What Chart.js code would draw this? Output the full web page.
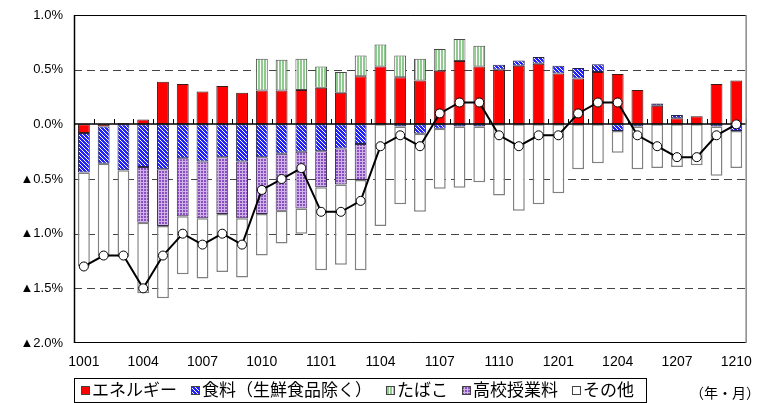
<!DOCTYPE html>
<html>
<head>
<meta charset="utf-8">
<script src="https://cdn.jsdelivr.net/npm/chart.js@4.4.0/dist/chart.umd.min.js"></script>
<style>
html, body { margin: 0; padding: 0; background: #fff; }
#wrap { width: 763px; height: 403px; }
</style>
</head>
<body>
<div id="wrap"><canvas id="c"></canvas></div>
<script>
// 年・月
const months = ['1001','1002','1003','1004','1005','1006','1007','1008','1009','1010','1011','1012',
                '1101','1102','1103','1104','1105','1106','1107','1108','1109','1110','1111','1112',
                '1201','1202','1203','1204','1205','1206','1207','1208','1209','1210'];

// 寄与度 (%)
const energy  = [-0.08,-0.02,0.01,0.045,0.39,0.37,0.30,0.35,0.29,0.31,0.31,0.315,
                 0.335,0.29,0.44,0.53,0.43,0.40,0.49,0.58,0.53,0.50,0.535,0.555,
                 0.465,0.42,0.48,0.46,0.315,0.17,0.055,0.075,0.37,0.40];
const food    = [-0.36,-0.34,-0.42,-0.39,-0.41,-0.31,-0.34,-0.30,-0.34,-0.30,-0.27,-0.25,
                 -0.245,-0.22,-0.18,null,-0.02,-0.085,-0.04,-0.02,-0.02,0.045,0.05,0.06,
                 0.07,0.095,0.07,-0.06,-0.02,0.02,0.03,null,-0.02,-0.06];
const tobacco = [null,null,null,null,null,null,null,null,null,0.29,0.28,0.285,
                 0.195,0.19,0.19,0.20,0.20,0.20,0.20,0.20,0.19,null,null,null,
                 null,null,null,null,null,null,null,null,null,null];
const tuition = [null,null,null,-0.51,-0.52,-0.53,-0.52,-0.52,-0.52,-0.52,-0.52,-0.52,
                 -0.33,-0.33,-0.33,null,null,null,null,null,null,null,null,null,
                 null,null,null,null,null,null,null,null,null,null];
const other   = [-0.86,-0.85,-0.79,-0.645,-0.66,-0.53,-0.55,-0.53,-0.54,-0.38,-0.30,-0.23,
                 -0.76,-0.735,-0.825,-0.93,-0.71,-0.715,-0.55,-0.56,-0.51,-0.65,-0.79,-0.73,
                 -0.63,-0.41,-0.355,-0.20,-0.39,-0.40,-0.39,-0.375,-0.45,-0.34];
const total   = [-1.3,-1.2,-1.2,-1.5,-1.2,-1.0,-1.1,-1.0,-1.1,-0.6,-0.5,-0.4,
                 -0.8,-0.8,-0.7,-0.2,-0.1,-0.2,0.1,0.2,0.2,-0.1,-0.2,-0.1,
                 -0.1,0.1,0.2,0.2,-0.1,-0.2,-0.3,-0.3,-0.1,0.0];

const yTicks = [1, 0.5, 0, -0.5, -1, -1.5, -2];
const seriesNames = ['エネルギー', '食料（生鮮食品除く）', 'たばこ', '高校授業料', 'その他'];

var ctx = document.getElementById('c').getContext('2d');

function tile(w, h, bg, fg, cells) {
    var cv = document.createElement('canvas');
    cv.width = w; cv.height = h;
    var g = cv.getContext('2d');
    g.fillStyle = bg; g.fillRect(0, 0, w, h);
    g.fillStyle = fg;
    cells.forEach(function (d) { g.fillRect(d[0], d[1], d[2] || 1, d[3] || 1); });
    return ctx.createPattern(cv, 'repeat');
}

// blue diagonal hatch
var foodFill = tile(4, 4, '#ffffff', '#2323f5',
    [[1,0,3,1],[0,1,1,1],[2,1,2,1],[0,2,2,1],[3,2,1,1],[0,3,3,1]]);
// green vertical stripes
var tobaccoFill = tile(3, 3, '#ffffff', '#8fca8f', [[0,0,2,3]]);
// purple small grid
var tuitionFill = tile(3, 3, '#cfb2ea', '#8a4fbf', [[0,0,2,2]]);

const fills = ['#ff0000', foodFill, tobaccoFill, tuitionFill, '#ffffff'];
const borders = ['#3a1a1a', '#22224a', '#4a4a4a', '#3a2a4a', '#808080'];
const values = [energy, food, tobacco, tuition, other];

var datasets = values.map(function (v, i) {
    return {
        type: 'bar',
        label: seriesNames[i],
        data: v,
        backgroundColor: fills[i],
        borderColor: borders[i],
        borderWidth: i === 4 ? 1.5 : 1,
        borderSkipped: false,
        categoryPercentage: 1,
        barPercentage: 0.6,
        order: 1
    };
});
datasets.push({
    type: 'line',
    label: '総合',
    data: total,
    borderColor: '#000',
    borderWidth: 2,
    pointRadius: 4.5,
    pointBackgroundColor: '#fff',
    pointBorderColor: '#000',
    pointBorderWidth: 1,
    tension: 0,
    order: 0
});

var decor = {
    id: 'decor',
    beforeDatasetsDraw: function (chart) {
        var c = chart.ctx, a = chart.chartArea, y = chart.scales.y;
        c.save();
        c.strokeStyle = '#444';
        c.lineWidth = 1;
        c.setLineDash([8, 5]);
        yTicks.forEach(function (v) {
            if (v === 0 || v === 1 || v === -2) return;
            var py = Math.round(y.getPixelForValue(v)) + 0.5;
            c.beginPath(); c.moveTo(a.left, py); c.lineTo(a.right, py); c.stroke();
        });
        c.restore();
    },
    afterDatasetDraw: function (chart, args) {
        if (args.index !== 0) return;
        var c = chart.ctx, a = chart.chartArea, x = chart.scales.x, y = chart.scales.y;
        var zy = Math.round(y.getPixelForValue(0));
        var half = (x.getPixelForValue(1) - x.getPixelForValue(0)) / 2;
        c.save();
        c.strokeStyle = '#000';
        c.lineWidth = 1.5;
        c.beginPath(); c.moveTo(a.left, zy); c.lineTo(a.right, zy); c.stroke();
        c.lineWidth = 1;
        for (var i = 0; i <= months.length; i++) {
            var px = Math.round(x.getPixelForValue(i) - half) + 0.5;
            c.beginPath(); c.moveTo(px, zy); c.lineTo(px, zy - 5); c.stroke();
        }
        c.restore();
    },
    afterDraw: function (chart) {
        var c = chart.ctx, a = chart.chartArea;
        c.save();
        // frame
        c.lineWidth = 1;
        c.strokeStyle = '#000';
        c.beginPath();
        c.moveTo(a.right, a.top + 0.5); c.lineTo(a.left, a.top + 0.5);
        c.moveTo(a.left, a.bottom - 0.5); c.lineTo(a.right, a.bottom - 0.5);
        c.stroke();
        c.lineWidth = 1.5;
        c.beginPath(); c.moveTo(a.left + 0.5, a.top); c.lineTo(a.left + 0.5, a.bottom); c.stroke();
        c.strokeStyle = '#888';
        c.beginPath(); c.moveTo(a.right, a.top); c.lineTo(a.right, a.bottom); c.stroke();

        // legend
        c.font = '17px "Noto Sans CJK JP"';
        c.textBaseline = 'middle';
        c.textAlign = 'left';
        var lx = a.left + 7, ly = 390;
        for (var i = 0; i < 5; i++) {
            var ds = chart.data.datasets[i];
            c.fillStyle = ds.backgroundColor;
            c.fillRect(lx, ly - 4, 8, 8);
            c.strokeStyle = '#444';
            c.lineWidth = 1;
            c.strokeRect(lx + 0.5, ly - 3.5, 8, 8);
            c.fillStyle = '#000';
            c.fillText(ds.label, lx + 11, ly);
            lx += 11 + c.measureText(ds.label).width + 14;
        }
        c.strokeStyle = '#000';
        c.lineWidth = 1;
        c.strokeRect(a.left + 0.5, 378.5, lx - a.left - 2, 24);

        // unit
        c.font = '14px "Noto Sans CJK JP"';
        c.fillText('（年・月）', 690, 393);
        c.restore();
    }
};

new Chart(ctx, {
    data: { labels: months, datasets: datasets },
    options: {
        responsive: true,
        maintainAspectRatio: false,
        animation: false,
        devicePixelRatio: 1,
        layout: { padding: { top: 0, right: 10, left: 0, bottom: 0 } },
        plugins: {
            legend: { display: false },
            tooltip: { enabled: false }
        },
        scales: {
            x: {
                stacked: true,
                grid: { display: false, drawTicks: false },
                border: { display: false },
                ticks: {
                    autoSkip: false,
                    maxRotation: 0,
                    padding: 11,
                    color: '#000',
                    font: { family: '"Liberation Sans Narrow", "Liberation Sans", Arial', size: 14 },
                    callback: function (v, i) { return i % 3 === 0 ? months[i] : ''; }
                },
                afterFit: function (s) { s.height = 60; }
            },
            y: {
                stacked: true,
                min: -2,
                max: 1,
                grid: { display: false, drawTicks: false },
                border: { display: false },
                afterBuildTicks: function (s) { s.ticks = yTicks.map(function (v) { return { value: v }; }); },
                ticks: {
                    padding: 11,
                    color: '#000',
                    font: { family: '"Liberation Sans Narrow", "Liberation Sans", Arial', size: 13, lineHeight: 0.62 },
                    callback: function (v) {
                        var s = Math.abs(v).toFixed(1) + '%';
                        return v < 0 ? '▲' + s : s;
                    }
                },
                afterFit: function (s) { s.width = 74; }
            }
        }
    },
    plugins: [decor]
});
</script>
</body>
</html>
